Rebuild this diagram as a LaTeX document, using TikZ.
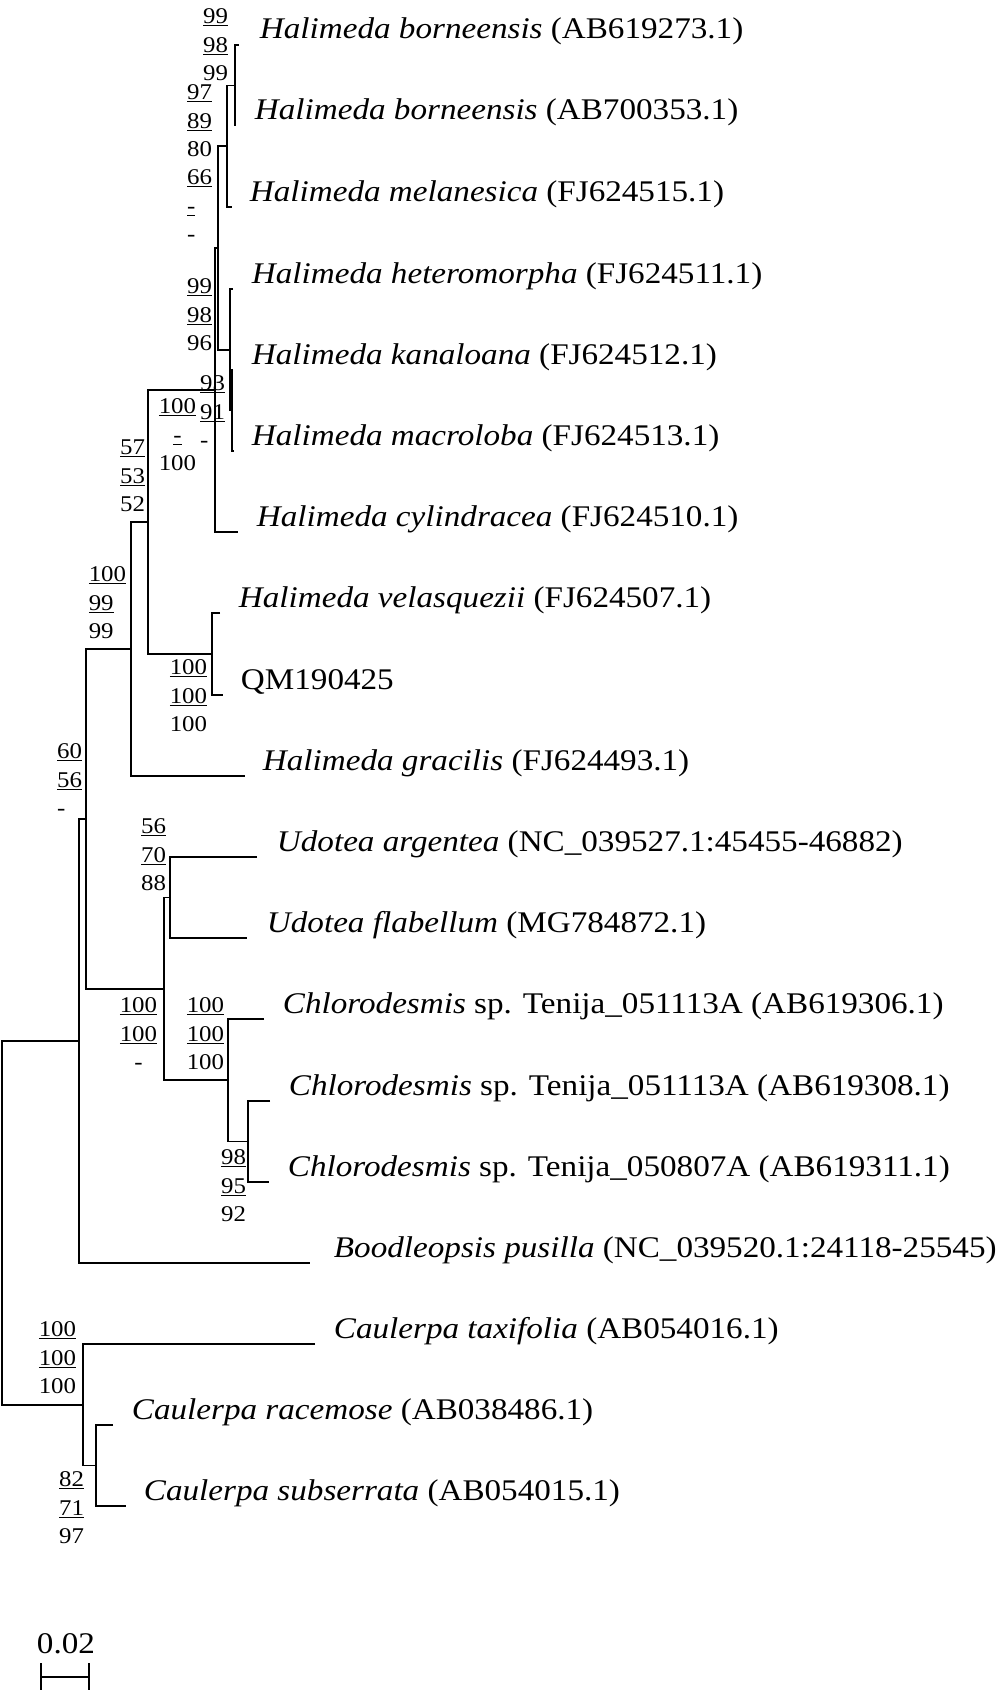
\documentclass[tikz,border=0pt]{standalone}
\usepackage{fontspec}
\setmainfont{Liberation Serif}[FakeStretch=1.105]
\newcommand{\btsup}[3]{\underline{#1}\\\underline{#2}\\#3}

\begin{document}
\begin{tikzpicture}[x=1pt, y=-1pt, line width=1.9pt,
	taxon/.style={anchor=base west, inner sep=0pt, font=\fontsize{30}{36}\selectfont},
	boot/.style={anchor=east, inner sep=0pt, align=left, font=\fontsize{22.5}{28.5}\selectfont}]
				\useasboundingbox[fill=white] (0,0) rectangle (1000,1691);

				% Tips
				\coordinate (bor1) at (239,45);
				\coordinate (bor2) at (235,126);
				\coordinate (mel) at (232,207);
				\coordinate (het) at (233,289);
				\coordinate (kan) at (233,370);
				\coordinate (mac) at (234,451);
				\coordinate (cyl) at (238,532);
				\coordinate (vel) at (220,613);
				\coordinate (qm) at (223,695);
				\coordinate (gra) at (245,776);
				\coordinate (arg) at (257,857);
				\coordinate (fla) at (247,938);
				\coordinate (chl1) at (264,1019);
				\coordinate (chl2) at (270,1101);
				\coordinate (chl3) at (269,1182);
				\coordinate (boo) at (310,1263);
				\coordinate (tax) at (315,1344);
				\coordinate (rac) at (113,1425);
				\coordinate (sub) at (126,1506);

				% Inner nodes
				\coordinate (borN) at (235,85.5);
				\coordinate (melN) at (227,146);
				\coordinate (kanN) at (232,410.5);
				\coordinate (hetN) at (230,349.75);
				\coordinate (midN) at (218,247.9);
				\coordinate (cylN) at (215,390);
				\coordinate (velN) at (212,654);
				\coordinate (halN) at (148,522);
				\coordinate (graN) at (131,649);
				\coordinate (udN) at (170,897.5);
				\coordinate (chlN2) at (248,1141.5);
				\coordinate (chlN) at (228,1080);
				\coordinate (udcN) at (164,988.75);
				\coordinate (inN) at (86,818.9);
				\coordinate (booN) at (79,1041);
				\coordinate (racN) at (96,1465.5);
				\coordinate (cauN) at (83,1404.75);
				\coordinate (root) at (2,1223);

				% Edges
				\draw (bor1) -| (borN) |- (bor2);
				\draw (borN) -| (melN) |- (mel);
				\draw (kan) -| (kanN) |- (mac);
				\draw (het) -| (hetN) |- (kanN);
				\draw (melN) -| (midN) |- (hetN);
				\draw (midN) -| (cylN) |- (cyl);
				\draw (vel) -| (velN) |- (qm);
				\draw (cylN) -| (halN) |- (velN);
				\draw (halN) -| (graN) |- (gra);
				\draw (arg) -| (udN) |- (fla);
				\draw (chl2) -| (chlN2) |- (chl3);
				\draw (chl1) -| (chlN) |- (chlN2);
				\draw (udN) -| (udcN) |- (chlN);
				\draw (graN) -| (inN) |- (udcN);
				\draw (inN) -| (booN) |- (boo);
				\draw (rac) -| (racN) |- (sub);
				\draw (tax) -| (cauN) |- (racN);
				\draw (booN) -| (root) |- (cauN);

				% Taxa
				\node[taxon] (lbor1) at (259,39) {\textit{Halimeda borneensis} (AB619273.1)};
				\node[taxon] (lbor2) at (254,120) {\textit{Halimeda borneensis} (AB700353.1)};
				\node[taxon] (lmel) at (249,201) {\textit{Halimeda melanesica} (FJ624515.1)};
				\node[taxon] (lhet) at (251,283) {\textit{Halimeda heteromorpha} (FJ624511.1)};
				\node[taxon] (lkan) at (251,364) {\textit{Halimeda kanaloana} (FJ624512.1)};
				\node[taxon] (lmac) at (251,445) {\textit{Halimeda macroloba} (FJ624513.1)};
				\node[taxon] (lcyl) at (256,526) {\textit{Halimeda cylindracea} (FJ624510.1)};
				\node[taxon] (lvel) at (238,607) {\textit{Halimeda velasquezii} (FJ624507.1)};
				\node[taxon] (lqm) at (240,689) {QM190425};
				\node[taxon] (lgra) at (262,770) {\textit{Halimeda gracilis} (FJ624493.1)};
				\node[taxon] (larg) at (276,851) {\textit{Udotea argentea} (NC\_039527.1:45455-46882)};
				\node[taxon] (lfla) at (266,932) {\textit{Udotea flabellum} (MG784872.1)};
				\node[taxon] (lchl1) at (282,1013) {\textit{Chlorodesmis} sp. Tenija\_051113A (AB619306.1)};
				\node[taxon] (lchl2) at (288,1095) {\textit{Chlorodesmis} sp. Tenija\_051113A (AB619308.1)};
				\node[taxon] (lchl3) at (287,1176) {\textit{Chlorodesmis} sp. Tenija\_050807A (AB619311.1)};
				\node[taxon] (lboo) at (333,1257) {\textit{Boodleopsis pusilla} (NC\_039520.1:24118-25545)};
				\node[taxon] (ltax) at (333,1338) {\textit{Caulerpa taxifolia} (AB054016.1)};
				\node[taxon] (lrac) at (131,1419) {\textit{Caulerpa racemose} (AB038486.1)};
				\node[taxon] (lsub) at (143,1500) {\textit{Caulerpa subserrata} (AB054015.1)};

				% Support values
				\node[boot] (sbor) at (229,45) {\btsup{99}{98}{99}};
				\node[boot] (smel) at (213,121) {\btsup{97}{89}{80}};
				\node[boot] (smid) at (213,206) {\btsup{66}{-}{-}};
				\node[boot] (shet) at (213,315) {\btsup{99}{98}{96}};
				\node[boot] (skan) at (226,412) {\btsup{93}{91}{-}};
				\node[boot, align=center] (scyl) at (197,435) {\btsup{100}{-}{100}};
				\node[boot] (shal) at (146,476) {\btsup{57}{53}{52}};
				\node[boot] (sgra) at (127,603) {\btsup{100}{99}{99}};
				\node[boot] (svel) at (208,696) {\btsup{100}{100}{100}};
				\node[boot] (sin) at (83,780) {\btsup{60}{56}{-}};
				\node[boot] (sud) at (167,855) {\btsup{56}{70}{88}};
				\node[boot, align=center] (sudc) at (158,1034) {\btsup{100}{100}{-}};
				\node[boot] (schl) at (225,1034) {\btsup{100}{100}{100}};
				\node[boot] (schl2) at (247,1186) {\btsup{98}{95}{92}};
				\node[boot] (scau) at (77,1358) {\btsup{100}{100}{100}};
				\node[boot] (srac) at (85,1508) {\btsup{82}{71}{97}};

				% Scale bar
				\coordinate (barL) at (41,1677);
				\coordinate (barR) at (89,1677);
				\draw (barL) -- (barR);
				\draw ([yshift=14pt]barL) -- ([yshift=-13pt]barL);
				\draw ([yshift=14pt]barR) -- ([yshift=-13pt]barR);
				\node[anchor=base, inner sep=0pt, font=\fontsize{30}{36}\selectfont] (scale) at (66,1653) {0.02};
			\end{tikzpicture}
\end{document}
